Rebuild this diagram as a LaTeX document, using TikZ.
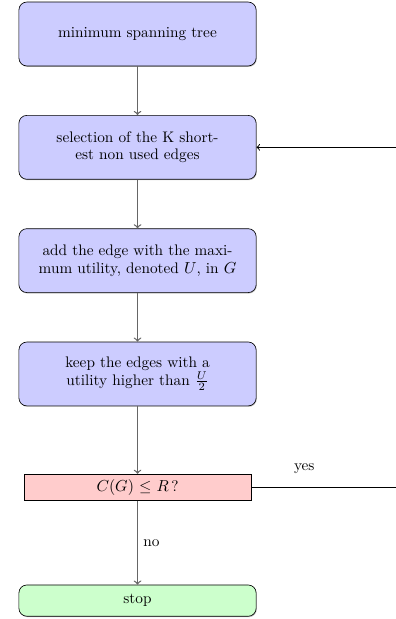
\documentclass[tikz,border=0pt]{standalone}
\usetikzlibrary{positioning,shadows}
\begin{document}
\begin{tikzpicture}[node distance=2.5cm, on grid,
    font=\fontsize{9.6pt}{11pt}\selectfont,
    block/.style={rectangle, draw, fill=blue!20, rounded corners=5pt,
      text width=5cm, align=center, minimum height=1.41cm,
      drop shadow={shadow xshift=0.4pt, shadow yshift=-0.6pt, opacity=0.5}},
    decision/.style={rectangle, draw, fill=red!20, minimum width=5cm,
      minimum height=0.58cm, inner sep=2pt},
    stopbox/.style={rectangle, draw, fill=green!20, rounded corners=5pt,
      text width=5cm, align=center, minimum height=0.69cm,
      drop shadow={shadow xshift=0.4pt, shadow yshift=-0.6pt, opacity=0.5}},
    line/.style={draw=black!60, thick, ->},
    loop/.style={draw, semithick, ->}]
  \useasboundingbox (-3.034,0.750) rectangle (5.681,-12.906);
  \node[block] (mst) {minimum spanning tree};
  \node[block, below=of mst] (select) {selection of the K short-\\est non used edges};
  \node[block, below=of select] (add) {add the edge with the maxi-\\mum utility, denoted $U$, in $G$};
  \node[block, below=of add] (keep) {keep the edges with a\\utility higher than $\frac{U}{2}$};
  \node[decision, below=of keep] (test) {$C(G)$ $\leq$ $R$\,?};
  \node[stopbox, below=of test] (stop) {stop};
  \coordinate (back) at (5.76,0 |- test);
  % main chain
  \path[line] (mst) -- (select);
  \path[line] (select) -- (add);
  \path[line] (add) -- (keep);
  \path[line] (keep) -- (test);
  \path[line] (test) -- node[right] {no} (stop);
  % going back
  \path[loop] (test) -- node[above=5pt, pos=0.36] {yes} (back) |- (select);
\end{tikzpicture}
\end{document}
